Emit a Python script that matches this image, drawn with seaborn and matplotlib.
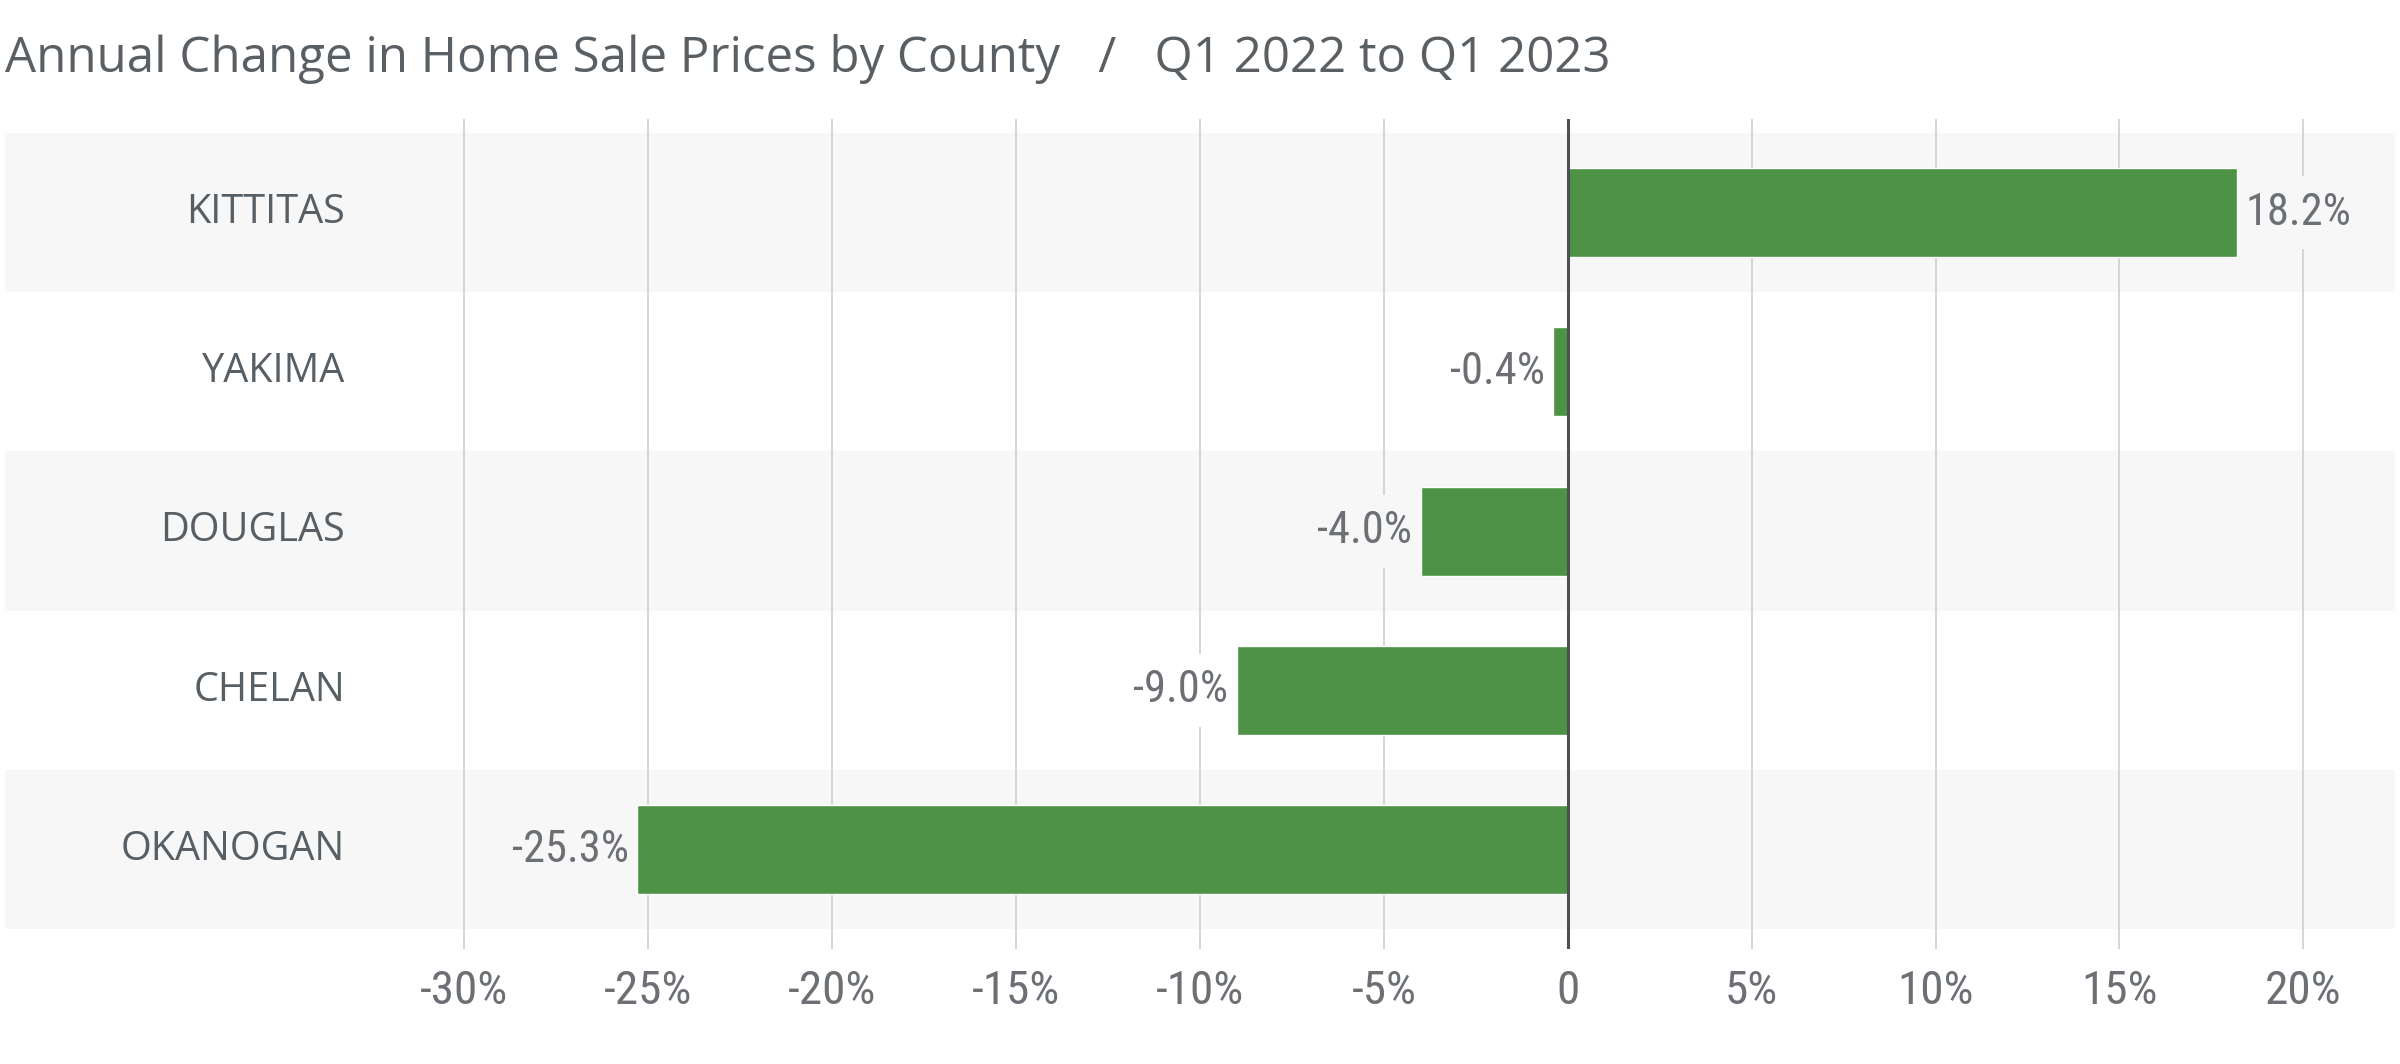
import matplotlib
matplotlib.use("Agg")
import matplotlib.pyplot as plt
import pandas as pd
import seaborn as sbn

# datos
condados = ["KITTITAS", "YAKIMA", "DOUGLAS", "CHELAN", "OKANOGAN"]
cambios = [18.2, -0.4, -4.0, -9.0, -25.3]
ticks_x = [-30, -25, -20, -15, -10, -5, 0, 5, 10, 15, 20]

titulo = "Annual Change in Home Sale Prices by County   /   Q1 2022 to Q1 2023"

verde = "#4d9245"
gris_banda = "#f7f7f7"
gris_texto = "#575e64"
gris_ticks = "#6c7075"
fuente_estrecha = ["Roboto Condensed", "Liberation Sans Narrow", "DejaVu Sans"]

df = pd.DataFrame({"condado": condados, "cambio": cambios})

sbn.set_theme(style = "white")
plt.rcParams["font.family"] = ["Open Sans", "Lato", "DejaVu Sans"]

fig = plt.figure(figsize = (24, 10.64), dpi = 100)
ax = fig.add_axes([0.002, 0.108, 0.996, 0.78])

sbn.barplot(data = df, x = "cambio", y = "condado", orient = "h", color = verde,
            width = 0.56, saturation = 1, ax = ax, zorder = 3)

# bandas grises alternas
for i in range(len(condados)):
    if i % 2 == 0:
        ax.axhspan(i - 0.5, i + 0.5, color = gris_banda, zorder = 0, lw = 0)

ax.set_xlim(-42.5, 22.5)
ax.set_ylim(len(condados) - 0.5 + 0.125, -0.587)
ax.set_xticks(ticks_x)
ax.set_xticklabels(["0" if t == 0 else f"{t}%" for t in ticks_x],
                   family = fuente_estrecha, fontstretch = "condensed",
                   fontsize = 34, color = gris_ticks)
ax.tick_params(axis = "x", length = 0, pad = 14)
ax.set_yticks([])
ax.grid(axis = "x", color = "#cfcfcf", lw = 1.2, zorder = 0.5)
ax.set_axisbelow(True)
ax.axvline(0, color = "#4b5156", lw = 2.2, zorder = 4)
for s in ax.spines.values():
    s.set_visible(False)
ax.set_xlabel("")
ax.set_ylabel("")

# nombres de los condados
for i, nombre in enumerate(condados):
    ax.text(-33.25, i, nombre, ha = "right", va = "center", fontsize = 28.5,
            color = gris_texto, zorder = 5)

# etiquetas de valor con fondo del color de la banda
for i, v in enumerate(cambios):
    fondo = gris_banda if i % 2 == 0 else "white"
    ax.annotate(f"{v:.1f}%", (v, i), xytext = (6 if v > 0 else -6, 0),
                textcoords = "offset points", ha = "left" if v > 0 else "right",
                va = "center", family = fuente_estrecha, fontstretch = "condensed",
                fontsize = 32, color = gris_ticks, zorder = 2.5,
                bbox = dict(boxstyle = "square,pad=0.35", fc = fondo, ec = "none"))

fig.text(0.002, 0.932, titulo, fontsize = 35.5, color = "#5a5f64", va = "baseline")

plt.savefig("out.png", dpi = 100)
plt.close()
